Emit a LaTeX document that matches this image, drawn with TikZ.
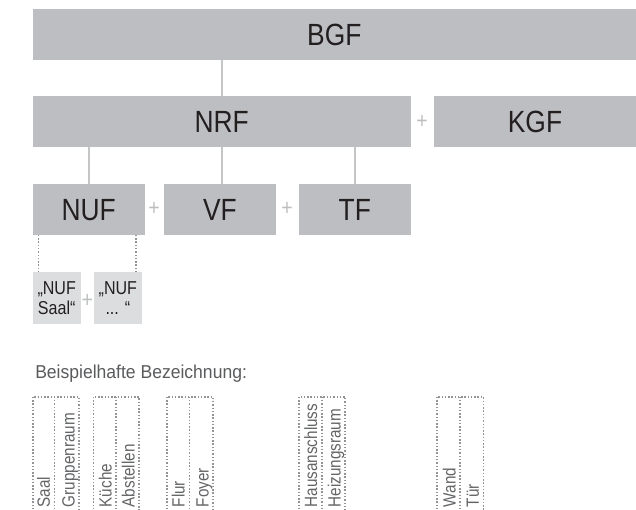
\documentclass[tikz,border=0pt]{standalone}
\usepackage{fontspec}
\setmainfont{Liberation Sans}[FakeStretch=0.86]
\newfontfamily\titlefont{Liberation Sans}[FakeStretch=0.94]
\definecolor{boxgray}{HTML}{BDBEC1}
\definecolor{lightbox}{HTML}{DCDDDF}
\definecolor{txt}{HTML}{231F20}
\definecolor{linegray}{HTML}{C4C5C7}
\definecolor{plusgray}{HTML}{BDBEC0}
\definecolor{dotgray}{HTML}{939497}
\definecolor{coltxt}{HTML}{636466}
\definecolor{titletxt}{HTML}{5A5B5D}
\begin{document}
\begin{tikzpicture}[x=0.75pt,y=-0.75pt,
  bigbox/.style={fill=boxgray, draw=none, inner sep=0pt, outer sep=0pt, text=txt,
    font=\fontsize{23pt}{24pt}\selectfont, text height=16.4pt, text depth=0pt},
  smallbox/.style={fill=lightbox, draw=none, inner sep=0pt, outer sep=0pt, text=txt,
    align=center, font=\fontsize{14pt}{14.6pt}\selectfont,
    minimum width=36pt, minimum height=39pt},
  plus/.style={text=plusgray, inner sep=0pt, font=\fontsize{17pt}{18pt}\selectfont},
  conn/.style={draw=linegray, line width=1.5pt},
  dotline/.style={draw=dotgray, line width=1.2pt, dash pattern=on 1.1pt off 1.35pt},
  coltext/.style={rotate=90, anchor=base west, inner sep=0pt, text=coltxt,
    font=\fontsize{13.3pt}{14pt}\selectfont},
  colbox/.style={draw=dotgray, line width=1.2pt, dash pattern=on 1.1pt off 1.35pt}
]
\useasboundingbox (0,0) rectangle (636,510);
\clip (0,0) rectangle (636,510);

% main boxes
\node[bigbox, minimum width=452.5pt, minimum height=38.25pt] (BGF) at (334.35,34.5) {BGF};
\node[bigbox, minimum width=283.5pt, minimum height=38pt] (NRF) at (221.7,121.35) {NRF};
\node[bigbox, minimum width=151.5pt, minimum height=38pt] (KGF) at (535,121.35) {KGF};
\node[bigbox, minimum width=84pt, minimum height=37.9pt] (NUF) at (88.7,209.25) {NUF};
\node[bigbox, minimum width=83.8pt, minimum height=37.9pt] (VF) at (219.85,209.25) {VF};
\node[bigbox, minimum width=83.8pt, minimum height=37.9pt] (TF) at (354.85,209.25) {TF};

% small boxes
\node[smallbox] (S1) at (56.7,298.3) {„NUF\\Saal“};
\node[smallbox, minimum width=35.8pt] (S2) at (117.85,298.3) {„NUF\\... “};

% plus signs
\node[plus] (p1) at (422,121.5) {+};
\node[plus] (p2) at (154,208.8) {+};
\node[plus] (p3) at (287,208.8) {+};
\node[plus] (p4) at (87.3,300.5) {+};

% connectors
\draw[conn] (NRF.north) -- (NRF.north |- BGF.south);
\draw[conn] (NUF.north) -- (NUF.north |- NRF.south);
\draw[conn] ([xshift=1.5pt]VF.north) -- ([xshift=1.5pt]VF.north |- NRF.south);
\draw[conn] (TF.north) -- (TF.north |- NRF.south);

\coordinate (d1) at ([xshift=4.2pt]S1.north west);
\coordinate (d2) at ([xshift=-4.1pt]S2.north east);
\draw[dotline] (d1) -- (d1 |- NUF.south);
\draw[dotline] (d2) -- (d2 |- NUF.south);

% title
\node[anchor=base west, inner sep=0pt, text=titletxt, font=\titlefont\fontsize{14pt}{16pt}\selectfont] (title) at (35,378.3) {Beispielhafte Bezeichnung:};

% example columns
\foreach \l/\m/\r in {32.7/54.3/79, 93.3/115.7/139, 166.7/189.3/213, 299/321.7/345, 436.7/460/483.3}{
  \draw[colbox] (\l,516) -- (\l,396.7) -- (\r,396.7) -- (\r,516);
  \draw[colbox] (\m,396.7) -- (\m,516);
}
\node[coltext] (c1a) at (50,507.5) {Saal};
\node[coltext] (c1b) at (74.5,507.5) {Gruppenraum};
\node[coltext] (c2a) at (111.7,507.5) {Küche};
\node[coltext] (c2b) at (134.5,507.5) {Abstellen};
\node[coltext] (c3a) at (184.7,507.5) {Flur};
\node[coltext] (c3b) at (208.5,507.5) {Foyer};
\node[coltext] (c4a) at (317.2,507.5) {Hausanschluss};
\node[coltext] (c4b) at (340.5,507.5) {Heizungsraum};
\node[coltext] (c5a) at (455.5,507.5) {Wand};
\node[coltext] (c5b) at (478.8,507.5) {Tür};
\end{tikzpicture}
\end{document}
